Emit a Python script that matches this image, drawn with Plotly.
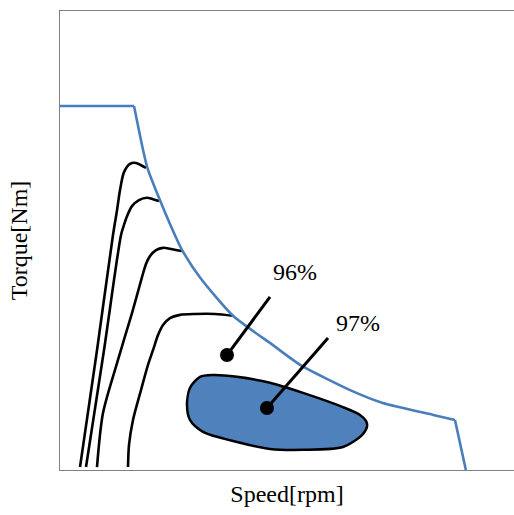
import plotly.graph_objects as go

# Envelope (max torque vs speed), normalised units
env_speed = [0, 16.3, 18.3, 19.2, 21.8, 25.8, 26.9, 30.8, 38.1, 46.9, 52.9, 63.9, 71.1, 82.2, 87.0, 89.4]
env_torque = [79.3, 79.3, 69.7, 66.0, 59.3, 50.1, 47.9, 42.0, 33.6, 27.2, 22.9, 17.4, 14.6, 12.0, 10.9, 0]

# Efficiency contour lines
c1_speed = [4.41, 8.15, 11.67, 12.56, 13.22, 14.10, 15.42, 16.74, 17.84, 18.94]
c1_torque = [0.65, 26.1, 51.2, 56.6, 61.0, 64.9, 66.7, 66.9, 66.4, 65.8]
c2_speed = [5.73, 9.69, 13.44, 14.10, 14.76, 15.86, 17.40, 19.16, 20.48, 21.81]
c2_torque = [0.65, 26.1, 51.2, 53.4, 55.3, 57.5, 58.8, 59.3, 59.0, 58.6]
c3_speed = [8.15, 9.47, 12.56, 15.86, 18.06, 18.94, 19.82, 21.15, 22.69, 24.67, 26.87]
c3_torque = [0.65, 12.4, 23.3, 34.2, 42.0, 44.9, 46.6, 47.9, 48.4, 48.1, 47.7]
c4_speed = [14.98, 15.20, 16.08, 17.84, 19.38, 20.48, 21.59, 22.69, 24.23, 26.43, 29.74, 34.14, 38.11]
c4_torque = [0.65, 5.45, 10.9, 17.4, 22.9, 26.1, 29.4, 31.6, 33.1, 33.8, 34.0, 34.0, 33.6]

# 97% efficiency region
r97_speed = [33.70, 38.99, 46.26, 53.52, 62.33, 66.08, 67.40, 67.62, 66.52, 62.33, 53.52,
             46.26, 38.99, 31.50, 28.63, 27.97, 28.63, 30.84, 33.70]
r97_torque = [20.7, 20.3, 19.0, 16.8, 13.7, 12.0, 10.7, 9.4, 7.6, 5.0, 4.4,
              4.6, 6.1, 8.3, 10.9, 14.2, 17.9, 20.3, 20.7]

# Labels: dot position, leader end, text position
labels = ["96%", "97%"]
dot_speed = [36.78, 45.59]
dot_torque = [25.05, 13.5]
lead_speed = [46.26, 59.03]
lead_torque = [37.7, 28.76]
text_speed = [51.76, 65.64]
text_torque = [42.7, 31.6]

BLUE_LINE = "#4a7ebb"
BLUE_FILL = "#4f81bd"
FONT = "Liberation Serif"

fig = go.Figure()

# 97% region
fig.add_trace(go.Scatter(x=r97_speed, y=r97_torque, mode="lines", fill="toself",
                         fillcolor=BLUE_FILL, line=dict(color="black", width=2.5, shape="spline", smoothing=0.8),
                         hoverinfo="skip", showlegend=False))

# contours
for xs, ys in [(c1_speed, c1_torque), (c2_speed, c2_torque), (c3_speed, c3_torque), (c4_speed, c4_torque)]:
    fig.add_trace(go.Scatter(x=xs, y=ys, mode="lines",
                             line=dict(color="black", width=2.6, shape="spline", smoothing=0.8),
                             showlegend=False))

# envelope: flat part, curved part, final drop
fig.add_trace(go.Scatter(x=env_speed[:2], y=env_torque[:2], mode="lines",
                         line=dict(color=BLUE_LINE, width=2.6), showlegend=False))
fig.add_trace(go.Scatter(x=env_speed[1:-1], y=env_torque[1:-1], mode="lines",
                         line=dict(color=BLUE_LINE, width=2.6, shape="spline", smoothing=0.6), showlegend=False))
fig.add_trace(go.Scatter(x=env_speed[-2:], y=env_torque[-2:], mode="lines",
                         line=dict(color=BLUE_LINE, width=2.6), showlegend=False))

# leader lines and dots
for i in range(len(labels)):
    fig.add_trace(go.Scatter(x=[dot_speed[i], lead_speed[i]], y=[dot_torque[i], lead_torque[i]],
                             mode="lines", line=dict(color="black", width=3), showlegend=False))
fig.add_trace(go.Scatter(x=dot_speed, y=dot_torque, mode="markers",
                         marker=dict(color="black", size=14), showlegend=False))
fig.add_trace(go.Scatter(x=text_speed, y=text_torque, mode="text", text=labels,
                         textfont=dict(family=FONT, size=24, color="black"), showlegend=False))

fig.update_layout(
    width=514, height=515,
    margin=dict(l=60, r=0, t=11, b=45),
    paper_bgcolor="white", plot_bgcolor="white",
    font=dict(family=FONT, size=24, color="black"),
    xaxis=dict(range=[0, 100], showgrid=False, zeroline=False, showticklabels=False, ticks="",
               showline=True, linecolor="#808080", linewidth=1, mirror=True,
               title=dict(text="Speed[rpm]", font=dict(family=FONT, size=24), standoff=15)),
    yaxis=dict(range=[0, 100], showgrid=False, zeroline=False, showticklabels=False, ticks="",
               showline=True, linecolor="#808080", linewidth=1, mirror=False,
               title=dict(text="Torque[Nm]", font=dict(family=FONT, size=24), standoff=24)),
)

fig.write_html("out.html", config={"displayModeBar": False},
               post_script="document.body.style.margin='0px';")
